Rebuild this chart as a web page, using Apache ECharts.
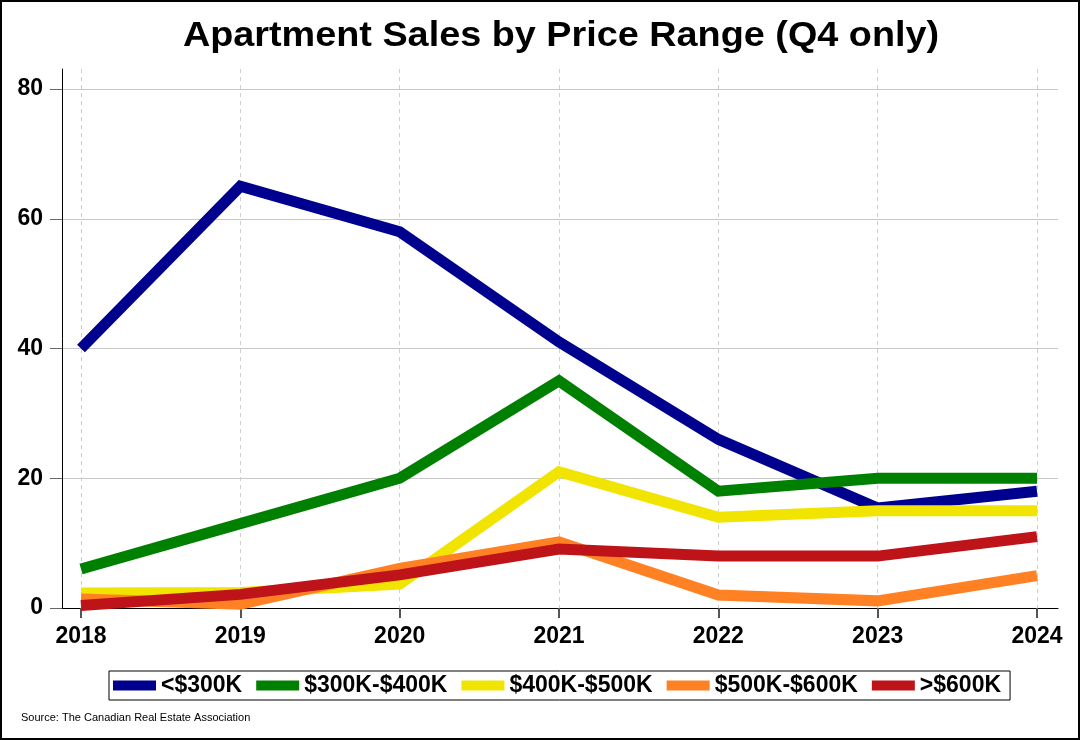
<!DOCTYPE html>
<html><head><meta charset="utf-8">
<script src="https://cdn.jsdelivr.net/npm/echarts@6/dist/echarts.min.js"></script>
<style>html,body{margin:0;padding:0;background:#fff}#c{width:1080px;height:740px}</style>
</head><body><div id="c"></div>
<script>
const years = ['2018','2019','2020','2021','2022','2023','2024'];
const seriesNames = ['<$300K','$300K-$400K','$400K-$500K','$500K-$600K','>$600K'];
const under300 = [40, 65, 58, 41, 26, 15.4, 18];
const from300to400 = [6, 13, 20, 35, 18, 20, 20];
const from400to500 = [2.3, 2.4, 3.7, 21, 14, 15, 15];
const from500to600 = [1.4, 0.6, 6.1, 10.2, 2, 1.1, 5];
const over600 = [0.4, 2.1, 5.1, 9.1, 8, 8, 11];
const yTicks = [0, 20, 40, 60, 80];
const colors = ['#00008F', '#008000', '#F0E400', '#FF8124', '#BE1319'];
const values = [under300, from300to400, from400to500, from500to600, over600];

const font = "'Liberation Sans', Arial, sans-serif";
const yMaxTop = 83.08;

const chart = echarts.init(document.getElementById('c'), null, {renderer: 'canvas'});
chart.setOption({
  animation: false,
  backgroundColor: '#fff',
  graphic: [
    {type: 'rect', shape: {x: 1, y: 1, width: 1078, height: 738}, style: {fill: 'none', stroke: '#000', lineWidth: 2}, silent: true},
    {type: 'text', x: 561, y: 36, scaleX: 1.08, style: {text: 'Apartment Sales by Price Range (Q4 only)', x: 0, y: 0, align: 'center', verticalAlign: 'middle', font: 'bold 35px ' + font, fill: '#000'}},
    {type: 'text', left: 21, top: 712, style: {text: 'Source: The Canadian Real Estate Association', font: '11px ' + font, fill: '#000'}}
  ],
  legend: {
    data: seriesNames.map((n, i) => ({name: n, icon: 'rect', itemStyle: {color: colors[i]}})),
    left: 109, top: 671,
    itemWidth: 43, itemHeight: 10, itemGap: 14,
    padding: [3, 9, 3, 4],
    borderColor: '#000', borderWidth: 1, borderRadius: 0,
    textStyle: {fontFamily: font, fontWeight: 'bold', fontSize: 23, lineHeight: 23, color: '#000'}
  },
  grid: [
    {left: 62, right: 22, top: 69, bottom: 132},
    {left: 62, right: 22, top: 89, bottom: 132},
    {left: 81, right: 43, top: 69, bottom: 132}
  ],
  xAxis: [
    {gridIndex: 0, type: 'value', min: 0, max: 1, axisLine: {show: true, lineStyle: {color: '#000', width: 1}}, axisTick: {show: false}, axisLabel: {show: false}, splitLine: {show: false}},
    {gridIndex: 1, type: 'value', min: 0, max: 1, show: false},
    {gridIndex: 2, type: 'category', data: years, boundaryGap: false,
      axisLine: {show: false},
      axisTick: {show: true, length: 10, lineStyle: {color: '#555', width: 2}},
      axisLabel: {fontFamily: font, fontWeight: 'bold', fontSize: 23, color: '#000', margin: 17},
      splitLine: {show: true, lineStyle: {color: '#cfcfcf', type: [4, 4], width: 1}}
    }
  ],
  yAxis: [
    {gridIndex: 0, type: 'value', min: 0, max: yMaxTop, axisLine: {show: true, lineStyle: {color: '#000', width: 1}}, axisTick: {show: false}, axisLabel: {show: false}, splitLine: {show: false}},
    {gridIndex: 1, type: 'value', min: yTicks[0], max: yTicks[yTicks.length - 1], interval: 20,
      axisLine: {show: false},
      axisTick: {show: true, length: 12, lineStyle: {color: '#666', width: 1}},
      axisLabel: {fontFamily: font, fontWeight: 'bold', fontSize: 23, color: '#000', margin: 19},
      splitLine: {show: true, lineStyle: {color: '#c8c8c8', width: 1}}
    },
    {gridIndex: 2, type: 'value', min: 0, max: yMaxTop, show: false, splitLine: {show: false}}
  ],
  series: values.map((v, i) => ({
    name: seriesNames[i], type: 'line', xAxisIndex: 2, yAxisIndex: 2,
    data: v, showSymbol: false, symbol: 'none',
    lineStyle: {color: colors[i], width: 11, join: 'miter', cap: 'butt'},
    itemStyle: {color: colors[i]}, z: 2 + i
  }))
});
</script></body></html>
